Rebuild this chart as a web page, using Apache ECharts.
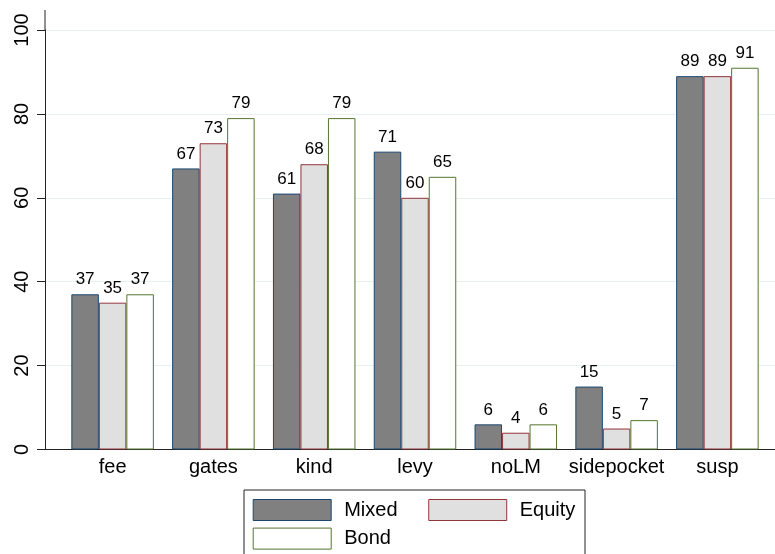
<!DOCTYPE html>
<html>
<head>
<meta charset="utf-8">
<script src="https://cdn.jsdelivr.net/npm/echarts@6/dist/echarts.min.js"></script>
<style>
html,body{margin:0;padding:0;background:#fff;}
#main{width:775px;height:554px;}
</style>
</head>
<body>
<div id="main"></div>
<script>
var categories = ['fee', 'gates', 'kind', 'levy', 'noLM', 'sidepocket', 'susp'];
var mixed  = [37, 67, 61, 71, 6, 15, 89];
var equity = [35, 73, 68, 60, 4, 5, 89];
var bond   = [37, 79, 79, 65, 6, 7, 91];
var yTicks = [0, 20, 40, 60, 80, 100];

var FONT = '"Liberation Sans", Arial, Helvetica, sans-serif';
var chart = echarts.init(document.getElementById('main'), null, {renderer: 'canvas'});

function mkSeries(name, data, fill, stroke) {
  return {
    name: name, type: 'bar', data: data,
    xAxisIndex: 1, yAxisIndex: 1,
    barWidth: 27.5, barGap: '0%',
    itemStyle: {color: fill, borderColor: stroke, borderWidth: 1},
    label: {show: true, position: 'top', distance: 6, color: '#000',
            fontSize: 17, fontFamily: FONT},
    emphasis: {disabled: true}
  };
}

var option = {
  animation: false,
  backgroundColor: '#fff',
  grid: [
    {left: 45, right: 0, top: 30, bottom: 104.5},
    {left: 62.2, right: 7.2, top: 30, bottom: 104.5}
  ],
  xAxis: [
    {type: 'value', gridIndex: 0, min: 0, max: 1,
     axisLine: {show: true, onZero: false, lineStyle: {color: '#222', width: 1}},
     axisTick: {show: false}, axisLabel: {show: false}, splitLine: {show: false}},
    {type: 'category', gridIndex: 1, data: categories,
     axisLine: {show: false}, axisTick: {show: false},
     axisLabel: {interval: 0, color: '#000', fontSize: 20, fontFamily: FONT, margin: 8}}
  ],
  yAxis: [
    {type: 'value', gridIndex: 0, min: 0, max: 100, interval: 20,
     axisLine: {show: true, lineStyle: {color: '#222', width: 1}},
     axisTick: {show: true, length: 8, lineStyle: {color: '#222'}},
     axisLabel: {rotate: 90, color: '#000', fontSize: 20, fontFamily: FONT, margin: 13,
                 formatter: function (v) { return yTicks.indexOf(v) >= 0 ? String(v) : ''; }},
     splitLine: {show: true, lineStyle: {color: '#e8f0f2', width: 1}}},
    {type: 'value', gridIndex: 1, min: 0, max: 100, show: false}
  ],
  legend: [
    {data: ['Mixed', 'Equity'], left: 252.7, top: 499, padding: 0,
     icon: 'rect', itemWidth: 78, itemHeight: 21, itemGap: 30.7,
     itemStyle: {borderWidth: 1},
     textStyle: {fontSize: 20, fontFamily: FONT, color: '#000', padding: [0, 0, 0, 8]}},
    {data: ['Bond'], left: 252.7, top: 527.6, padding: 0,
     icon: 'rect', itemWidth: 78, itemHeight: 21,
     itemStyle: {borderWidth: 1},
     textStyle: {fontSize: 20, fontFamily: FONT, color: '#000', padding: [0, 0, 0, 8]}}
  ],
  graphic: [
    {type: 'line', shape: {x1: 45, y1: 10, x2: 45, y2: 30},
     style: {stroke: '#222', lineWidth: 1}},
    {type: 'rect', shape: {x: 244, y: 490, width: 341, height: 80},
     style: {fill: 'none', stroke: '#222', lineWidth: 1}, z: -1}
  ],
  series: [
    mkSeries('Mixed', mixed, '#808080', '#1a476f'),
    mkSeries('Equity', equity, '#e0e0e0', '#90353b'),
    mkSeries('Bond', bond, '#ffffff', '#55752f')
  ]
};
chart.setOption(option);
</script>
</body>
</html>
